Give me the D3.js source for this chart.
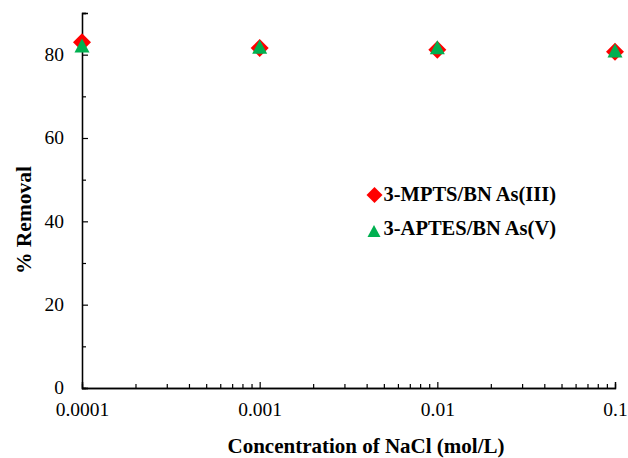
<!DOCTYPE html>
<html>
<head>
<meta charset="utf-8">
<script src="https://cdn.jsdelivr.net/npm/d3@7"></script>
<style>
  body { margin: 0; background: #fff; }
</style>
</head>
<body>
<svg id="chart" width="628" height="458"></svg>
<script>
// data
const concentrations = [0.0001, 0.001, 0.01, 0.1]
const mptsAs3 = [83.0, 81.6, 81.2, 80.7]
const aptesAs5 = [82.2, 81.9, 81.8, 81.0]
const seriesNames = ["3-MPTS/BN As(III)", "3-APTES/BN As(V)"]
const yMajorTicks = [0, 20, 40, 60, 80]
const yMinorTicks = [10, 30, 50, 70, 90]
const xMajorTicks = [0.0001, 0.001, 0.01, 0.1]

const FONT = "'Liberation Serif', 'Times New Roman', serif"
const svg = d3.select("#chart")
const margin = { top: 13, right: 13, bottom: 70, left: 82 }
const width = 628, height = 458

const x = d3.scaleLog().domain([0.0001, 0.1]).range([margin.left, width - margin.right])
const y = d3.scaleLinear().domain([0, 90]).range([height - margin.bottom, margin.top])

// minor x ticks 2..9 in each decade
var xMinor = []
xMajorTicks.slice(0, -1).forEach(d => { for (let k = 2; k <= 9; k++) xMinor.push(d * k) })

//--------- axes
svg.append("g").attr("transform", "translate(0," + y(0) + ")")
  .call(d3.axisBottom(x).tickValues(xMinor).tickSize(-4).tickFormat(""))
svg.append("g").attr("class", "xAxis_g").attr("transform", "translate(0," + y(0) + ")")
  .call(d3.axisBottom(x).tickValues(xMajorTicks).tickSize(-6).tickPadding(14).tickFormat(d => String(d)))

svg.append("g").attr("transform", "translate(" + margin.left + ",0)")
  .call(d3.axisLeft(y).tickValues(yMinorTicks).tickSize(-4).tickFormat(""))
svg.append("g").attr("class", "yAxis_g").attr("transform", "translate(" + margin.left + ",0)")
  .call(d3.axisLeft(y).tickValues(yMajorTicks).tickSize(-6).tickPadding(18))

svg.selectAll(".domain").attr("stroke", "#000").attr("stroke-width", 1.3)
svg.selectAll(".tick line").attr("stroke", "#000").attr("stroke-width", 1.2)
svg.selectAll(".tick text").style("font-family", FONT).style("font-size", "19.5px").attr("fill", "#000")
svg.selectAll(".yAxis_g .tick text").attr("dy", "0.3em")

// axis titles
svg.append("text").attr("x", 366).attr("y", 453).attr("text-anchor", "middle")
  .style("font-family", FONT).style("font-size", "21px").attr("font-weight", "bold")
  .text("Concentration of NaCl (mol/L)")
svg.append("text").attr("transform", "translate(31,220) rotate(-90)").attr("text-anchor", "middle")
  .style("font-family", FONT).style("font-size", "21.5px").attr("font-weight", "bold")
  .text("% Removal")

//--------- markers
const diamond = (cx, cy, r) => `M${cx},${cy - r}L${cx + r},${cy}L${cx},${cy + r}L${cx - r},${cy}Z`
const triangle = (cx, cy, w, h) => `M${cx},${cy - h / 2}L${cx + w / 2},${cy + h / 2}L${cx - w / 2},${cy + h / 2}Z`

svg.selectAll(".mpts").data(concentrations).join("path").attr("class", "mpts")
  .attr("d", (d, i) => diamond(x(d), y(mptsAs3[i]), 9))
  .attr("fill", "#ff0000")
svg.selectAll(".aptes").data(concentrations).join("path").attr("class", "aptes")
  .attr("d", (d, i) => triangle(x(d), y(aptesAs5[i]), 15, 14))
  .attr("fill", "#00b050")

//--------- legend
const legend = svg.append("g").attr("transform", "translate(374.5,195)")
legend.append("path").attr("d", diamond(0, 0, 8)).attr("fill", "#ff0000")
legend.append("path").attr("d", triangle(-0.5, 36, 13, 12)).attr("fill", "#00b050")
legend.selectAll(".legend_text").data(seriesNames).join("text").attr("class", "legend_text")
  .attr("x", 9).attr("y", (d, i) => i * 34 + 6)
  .style("font-family", FONT).style("font-size", "20.5px").attr("font-weight", "bold")
  .text(d => d)
</script>
</body>
</html>
